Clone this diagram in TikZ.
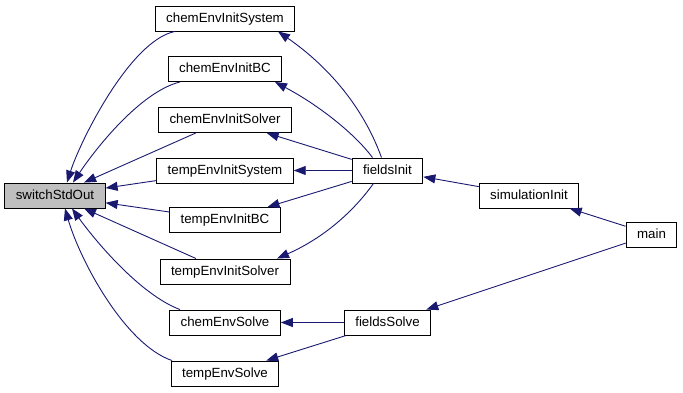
\documentclass[tikz,border=0pt]{standalone}
\usepackage{fontspec}
\setmainfont{Liberation Sans}
\usetikzlibrary{arrows.meta}
\definecolor{edgeblue}{RGB}{25,25,112}
\definecolor{hilite}{RGB}{191,191,191}
\begin{document}
\begin{tikzpicture}[x=1pt,y=1pt,
  fn/.style={draw, line width=0.9pt, minimum height=25pt, inner xsep=11pt,
    text height=9.5pt, text depth=2.5pt, font=\fontsize{13.3}{16}\selectfont},
  call/.style={edgeblue, line width=0.9pt, -{Triangle[length=12pt,width=9pt]}}]
\useasboundingbox (0,0) rectangle (683,392);
% functions
\node[fn, fill=hilite] (switchStdOut) at (55,196.5) {switchStdOut};
\node[fn] (chemEnvInitSystem) at (225,373.5) {chemEnvInitSystem};
\node[fn] (chemEnvInitBC) at (225,323) {chemEnvInitBC};
\node[fn] (chemEnvInitSolver) at (225,272) {chemEnvInitSolver};
\node[fn] (tempEnvInitSystem) at (225,221.5) {tempEnvInitSystem};
\node[fn] (tempEnvInitBC) at (225,172) {tempEnvInitBC};
\node[fn] (tempEnvInitSolver) at (225,120.5) {tempEnvInitSolver};
\node[fn] (chemEnvSolve) at (225,69.5) {chemEnvSolve};
\node[fn] (tempEnvSolve) at (225,18.5) {tempEnvSolve};
\node[fn] (fieldsInit) at (387.5,221.5) {fieldsInit};
\node[fn] (fieldsSolve) at (387.5,69.5) {fieldsSolve};
\node[fn] (simulationInit) at (529,196.5) {simulationInit};
\node[fn] (main) at (651.5,157.5) {main};
% calls into switchStdOut
\draw[call] ([xshift=-50pt]chemEnvInitSystem.south) .. controls +(-45,-9) and +(13,41) .. ([xshift=12pt]switchStdOut.north);
\draw[call] ([xshift=-45pt]chemEnvInitBC.south) .. controls +(-40,-10) and +(22,33) .. ([xshift=18pt]switchStdOut.north);
\foreach \f in {chemEnvInitSolver,tempEnvInitSystem,tempEnvInitBC,tempEnvInitSolver}
  \draw[call] (\f) -- (switchStdOut);
\draw[call] ([xshift=-45pt]chemEnvSolve.north) .. controls +(-40,15) and +(23,-32) .. ([xshift=17pt]switchStdOut.south);
\draw[call] ([xshift=-53pt]tempEnvSolve.north) .. controls +(-47,16) and +(15,-52) .. ([xshift=10pt]switchStdOut.south);
% fieldsInit
\draw[call] ([xshift=-6pt]fieldsInit.north) .. controls +(-21,58) and +(42,-29) .. ([xshift=53pt]chemEnvInitSystem.south);
\draw[call] ([xshift=-15pt]fieldsInit.north) .. controls +(-17,23) and +(45,-24) .. ([xshift=50pt]chemEnvInitBC.south);
\foreach \f in {chemEnvInitSolver,tempEnvInitSystem,tempEnvInitBC}
  \draw[call] (fieldsInit) -- (\f);
\draw[call] ([xshift=-14pt]fieldsInit.south) .. controls +(-23,-32) and +(43,19) .. ([xshift=52pt]tempEnvInitSolver.north);
% fieldsSolve and the top level
\draw[call] (fieldsSolve) -- (chemEnvSolve);
\draw[call] (fieldsSolve) -- (tempEnvSolve);
\draw[call] (simulationInit) -- (fieldsInit);
\draw[call] (main) -- (simulationInit);
\draw[call] (main) -- (fieldsSolve);
\end{tikzpicture}
\end{document}
